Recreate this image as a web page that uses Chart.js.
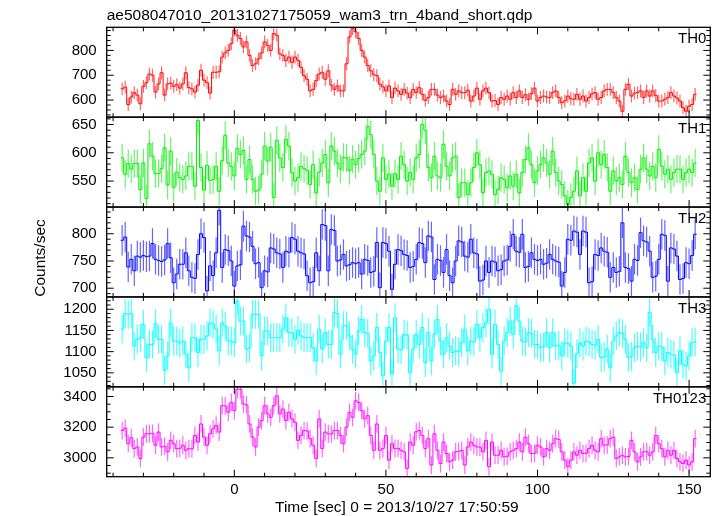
<!DOCTYPE html>
<html>
<head>
<meta charset="utf-8">
<script src="https://cdn.jsdelivr.net/npm/chart.js@4.4.0/dist/chart.umd.min.js"></script>
<style>
  html, body { margin: 0; padding: 0; background: #fff; }
  #chart { display: block; }
</style>
</head>
<body>
<canvas id="chart" width="717" height="516"></canvas>
<script>
// light curve, 1 s bins, first bin centred at t = -37 s
const TITLE = "ae508047010_20131027175059_wam3_trn_4band_short.qdp";
const X_LABEL = "Time [sec] 0 = 2013/10/27 17:50:59";
const Y_LABEL = "Counts/sec";
const FIRST_BIN = -37;
const BIN = 1;
const xTicks = [0, 50, 100, 150];
const X_MINOR = 10;

const bands = ["TH0", "TH1", "TH2", "TH3", "TH0123"];

const th0 = [
  645, 652, 582, 612, 630, 620, 585, 655, 670, 705,
  700, 632, 665, 710, 620, 665, 668, 655, 662, 648,
  665, 710, 650, 645, 632, 660, 720, 680, 670, 628,
  712, 712, 714, 773, 790, 800, 827, 882, 861, 848,
  814, 834, 780, 739, 746, 766, 790, 834, 820, 800,
  868, 861, 786, 780, 759, 773, 752, 773, 760, 732,
  698, 684, 637, 643, 678, 705, 712, 684, 718, 660,
  643, 657, 637, 637, 746, 854, 888, 875,
  848, 800, 773, 739, 718, 702, 698, 664, 653, 637,
  657, 610, 648, 637, 623, 643, 628, 610, 643, 630,
  650, 623, 599, 610, 643, 643, 620, 610, 616, 596,
  582, 643, 623, 637, 630, 630, 640, 596, 616, 648,
  603, 637, 648, 630, 596, 598, 582, 610, 603, 616,
  603, 630, 610, 637, 610, 622, 603, 626, 648, 596,
  610, 616, 612, 610, 630, 637, 610, 589, 596, 616,
  605, 603, 623, 603, 616, 596, 610, 625, 630, 603,
  610, 637, 643, 643, 630, 610, 596, 555, 643, 664,
  616, 628, 630, 637, 610, 637, 616, 637, 618, 596,
  596, 603, 610, 630, 616, 608, 596, 569, 555, 575,
  582, 623
];

const th1 = [
  591, 562, 581, 571, 581, 581, 535, 582, 519, 616,
  594, 563, 563, 572, 609, 543, 603, 539, 566, 556,
  553, 559, 576, 576, 541, 657, 574, 534, 578, 551,
  553, 576, 532, 586, 631, 582, 576, 559, 608, 597,
  604, 553, 588, 553, 532, 534, 562, 612, 585, 610,
  521, 622, 591, 574, 624, 612, 565, 550, 556, 576,
  572, 569, 544, 579, 529, 566, 582, 597, 547, 612,
  603, 582, 571, 592, 591, 569, 589, 579,
  590, 597, 603, 647, 632, 597, 550, 532, 591, 553,
  562, 541, 563, 553, 594, 579, 550, 565, 553, 591,
  597, 650, 640, 574, 556, 594, 559, 556, 615, 576,
  559, 591, 594, 521, 547, 547, 526, 547, 574, 600,
  579, 529, 565, 568, 562, 526, 535, 556, 553, 538,
  559, 541, 562, 529, 565, 588, 609, 579, 547, 568,
  579, 591, 582, 562, 603, 565, 550, 544, 524, 509,
  521, 532, 568, 524, 556, 532, 582, 591, 550, 600,
  579, 597, 574, 532, 568, 550, 556, 544, 594, 565,
  547, 556, 535, 571, 591, 571, 559, 576, 556, 606,
  576, 562, 571, 553, 565, 571, 571, 553, 565, 571,
  565, 582
];

const th2 = [
  788, 794, 739, 753, 732, 759, 757, 760, 758, 759,
  782, 753, 751, 749, 752, 782, 756, 710, 726, 744,
  744, 765, 732, 720, 718, 762, 800, 793, 695, 741,
  723, 765, 843, 738, 771, 769, 750, 704, 741, 743,
  814, 796, 794, 777, 745, 747, 701, 732, 730, 774,
  772, 765, 763, 738, 768, 766, 793, 790, 768, 765,
  763, 723, 710, 712, 765, 732, 817, 815, 732, 808,
  806, 750, 752, 762, 741, 743, 747, 745,
  747, 726, 753, 751, 729, 731, 784, 701, 784, 782,
  768, 698, 744, 771, 769, 762, 760, 738, 740, 753,
  784, 782, 747, 796, 794, 716, 753, 751, 729, 771,
  723, 710, 750, 787, 785, 759, 757, 790, 765, 763,
  713, 715, 750, 729, 750, 748, 732, 734, 750, 752,
  777, 799, 768, 766, 799, 738, 740, 765, 753, 751,
  753, 744, 746, 762, 753, 750, 748, 704, 729, 790,
  788, 805, 803, 762, 805, 803, 710, 712, 762, 760,
  774, 768, 766, 720, 738, 729, 731, 820, 738, 736,
  713, 753, 751, 802, 787, 785, 768, 720, 722, 753,
  799, 797, 713, 774, 772, 759, 716, 718, 747, 745,
  760, 799
];

const th3 = [
  1153, 1190, 1188, 1190, 1113, 1129, 1133, 1164, 1086, 1117,
  1117, 1166, 1129, 1129, 1056, 1090, 1168, 1125, 1125, 1120,
  1125, 1094, 1062, 1133, 1133, 1098, 1129, 1129, 1137, 1168,
  1165, 1153, 1102, 1168, 1160, 1125, 1125, 1121, 1219, 1172,
  1172, 1106, 1109, 1188, 1188, 1188, 1090, 1149, 1149, 1133,
  1133, 1133, 1133, 1153, 1180, 1145, 1145, 1129, 1150, 1137,
  1133, 1133, 1133, 1109, 1078, 1153, 1106, 1145, 1117, 1117,
  1192, 1190, 1094, 1161, 1161, 1137, 1106, 1094,
  1149, 1176, 1145, 1143, 1078, 1090, 1157, 1098, 1043, 1125,
  1157, 1047, 1180, 1106, 1104, 1141, 1139, 1050, 1106, 1141,
  1117, 1157, 1074, 1145, 1078, 1141, 1176, 1125, 1094, 1133,
  1113, 1098, 1102, 1100, 1121, 1153, 1102, 1125, 1123, 1164,
  1133, 1157, 1168, 1200, 1094, 1164, 1117, 1054, 1125, 1145,
  1172, 1141, 1208, 1172, 1125, 1123, 1145, 1143, 1117, 1117,
  1109, 1111, 1145, 1109, 1145, 1113, 1115, 1090, 1121, 1119,
  1113, 1025, 1095, 1121, 1113, 1125, 1123, 1117, 1115, 1129,
  1086, 1088, 1106, 1062, 1125, 1137, 1145, 1143, 1129, 1086,
  1088, 1109, 1113, 1111, 1121, 1109, 1192, 1129, 1098, 1113,
  1111, 1078, 1098, 1094, 1092, 1050, 1102, 1070, 1066, 1090,
  1121, 1123
];

const th0123 = [
  3178, 3194, 3092, 3131, 3060, 3071, 2996, 3135, 3157, 3157,
  3160, 3082, 3168, 3071, 3075, 3039, 3114, 3092, 3060, 3062,
  3082, 3049, 3060, 3058, 3146, 3103, 3221, 3135, 3082, 3157,
  3189, 3211, 3168, 3340, 3338, 3297, 3361, 3308, 3447, 3447,
  3351, 3345, 3221, 3135, 3071, 3200, 3243, 3340, 3286, 3264,
  3340, 3404, 3286, 3318, 3243, 3297, 3254, 3232, 3114, 3146,
  3178, 3175, 3125, 3082, 2996, 3254, 3060, 3168, 3157, 3155,
  3178, 3178, 3146, 3092, 3200, 3297, 3264, 3372,
  3361, 3308, 3254, 3275, 3146, 3049, 3221, 3049, 3060, 3146,
  2985, 3092, 3060, 3062, 3049, 3039, 2931, 3103, 3082, 3170,
  3178, 3146, 3060, 3125, 2953, 3157, 3049, 2963, 3103, 3028,
  2974, 2985, 3039, 3042, 3049, 2953, 3071, 3103, 3082, 3071,
  3070, 3039, 3114, 2942, 3103, 3017, 3017, 3049, 3006, 3010,
  3039, 3049, 3060, 3103, 3039, 3135, 3092, 3028, 3030, 3082,
  3071, 3006, 3060, 3049, 3092, 3125, 3120, 3039, 2985, 2942,
  2985, 3039, 3017, 3049, 3028, 3030, 3060, 3082, 3049, 3039,
  3125, 3082, 3085, 3125, 3135, 2996, 3006, 3017, 3006, 3008,
  3114, 3039, 2974, 3006, 3039, 3040, 3017, 3039, 3146, 3092,
  3060, 3006, 3049, 3017, 3049, 2996, 2974, 2963, 2985, 2953,
  2974, 3125
];

const series = [th0, th1, th2, th3, th0123];
// 1-sigma error per band (counts/sec)
const errors = [26, 25, 28, 34, 58];
const yRanges = [[531, 893], [504, 663], [684, 849], [1017, 1229], [2877, 3463]];
const yTicks = [[600, 700, 800], [550, 600, 650], [700, 750, 800], [1050, 1100, 1150, 1200], [3000, 3200, 3400]];
const yMinor = [20, 10, 10, 10, 50];
const colors = ["#ff0000", "#00ee00", "#0000ff", "#00ffff", "#ff00ff"];
const errColors = ["rgba(255,0,0,0.6)", "rgba(0,238,0,0.6)", "rgba(0,0,255,0.6)", "rgba(0,255,255,0.7)", "rgba(255,0,255,0.6)"];

const times = th0.map((_, i) => FIRST_BIN + i * BIN);
const FONT = '"Liberation Sans", Arial, sans-serif';

Chart.defaults.font.family = FONT;
Chart.defaults.font.size = 15;
Chart.defaults.color = "#000";

const qdpFrame = {
  id: "qdpFrame",
  beforeDatasetDraw(chart, args) {
    const i = args.index;
    const xs = args.meta.xScale, ys = args.meta.yScale;
    const ctx = chart.ctx;
    ctx.save();
    ctx.beginPath();
    ctx.rect(xs.left, ys.top, xs.width, ys.height);
    ctx.clip();
    // error bars
    const vals = series[i];
    ctx.strokeStyle = errColors[i];
    ctx.lineWidth = 1.2;
    ctx.beginPath();
    vals.forEach((v, k) => {
      const x = xs.getPixelForValue(times[k]);
      ctx.moveTo(x, ys.getPixelForValue(v - errors[i]));
      ctx.lineTo(x, ys.getPixelForValue(v + errors[i]));
    });
    ctx.stroke();
    // half bins at both ends of the step line
    const n = vals.length - 1;
    ctx.strokeStyle = colors[i];
    ctx.lineWidth = 1;
    ctx.beginPath();
    ctx.moveTo(xs.getPixelForValue(times[0] - BIN / 2), ys.getPixelForValue(vals[0]));
    ctx.lineTo(xs.getPixelForValue(times[0]), ys.getPixelForValue(vals[0]));
    ctx.moveTo(xs.getPixelForValue(times[n]), ys.getPixelForValue(vals[n]));
    ctx.lineTo(xs.getPixelForValue(times[n] + BIN / 2), ys.getPixelForValue(vals[n]));
    ctx.stroke();
  },
  afterDatasetDraw(chart) {
    chart.ctx.restore();
  },
  afterDraw(chart) {
    const ctx = chart.ctx;
    const xs = chart.scales.x;
    const {left, right} = chart.chartArea;
    ctx.save();
    bands.forEach((name, i) => {
      const s = chart.scales["y" + i];
      ctx.strokeStyle = "#000";
      ctx.lineWidth = 1.3;
      ctx.strokeRect(left, s.top, right - left, s.bottom - s.top);
      ctx.lineWidth = 1;
      ctx.beginPath();
      for (let v = Math.ceil(xs.min / X_MINOR) * X_MINOR; v <= xs.max; v += X_MINOR) {
        const x = xs.getPixelForValue(v);
        const len = xTicks.includes(v) ? 7 : 4;
        ctx.moveTo(x, s.top); ctx.lineTo(x, s.top + len);
        ctx.moveTo(x, s.bottom); ctx.lineTo(x, s.bottom - len);
      }
      const step = yMinor[i];
      for (let v = Math.ceil(s.min / step) * step; v <= s.max; v += step) {
        const y = s.getPixelForValue(v);
        const len = yTicks[i].includes(v) ? 7 : 4;
        ctx.moveTo(left, y); ctx.lineTo(left + len, y);
        ctx.moveTo(right, y); ctx.lineTo(right - len, y);
      }
      ctx.stroke();
      ctx.fillStyle = "#000";
      ctx.font = "15px " + FONT;
      ctx.textAlign = "right";
      ctx.textBaseline = "alphabetic";
      ctx.fillText(name, right - 4, s.top + 16);
    });
    ctx.font = "15.5px " + FONT;
    ctx.textAlign = "left";
    ctx.fillText(TITLE, left, 20);
    ctx.fillText(X_LABEL, 275, 512);
    ctx.translate(41, 258);
    ctx.rotate(-Math.PI / 2);
    ctx.textAlign = "center";
    ctx.textBaseline = "middle";
    ctx.fillText(Y_LABEL, 0, 0);
    ctx.restore();
  }
};

const plain = v => String(v);

const scales = {
  x: {
    type: "linear",
    position: "bottom",
    min: -42.1,
    max: 157.0,
    grid: { display: false, drawTicks: false },
    border: { display: false },
    ticks: { padding: 4, maxRotation: 0, autoSkip: false, callback: plain },
    afterBuildTicks(scale) { scale.ticks = xTicks.map(v => ({ value: v })); },
    afterFit(scale) { scale.height = 39.3; }
  }
};
bands.forEach((name, i) => {
  scales["y" + i] = {
    type: "linear",
    position: "left",
    stack: "bands",
    stackWeight: 1,
    weight: bands.length - i,
    min: yRanges[i][0],
    max: yRanges[i][1],
    grid: { display: false, drawTicks: false },
    border: { display: false },
    ticks: { padding: 10, autoSkip: false, callback: plain },
    afterBuildTicks(scale) { scale.ticks = yTicks[i].map(v => ({ value: v })); },
    afterFit(scale) { scale.width = 106.7; }
  };
});

const ctx = document.getElementById("chart");
new Chart(ctx, {
  type: "line",
  data: {
    datasets: bands.map((name, i) => ({
      label: name,
      data: series[i].map((v, k) => ({ x: times[k], y: v })),
      xAxisID: "x",
      yAxisID: "y" + i,
      borderColor: colors[i],
      borderWidth: 1,
      pointRadius: 0,
      stepped: "middle",
      fill: false
    }))
  },
  options: {
    responsive: false,
    animation: false,
    devicePixelRatio: 1,
    layout: { padding: { top: 27.3, right: 6.7, bottom: 0, left: 0 } },
    plugins: { legend: { display: false }, tooltip: { enabled: false } },
    scales: scales
  },
  plugins: [qdpFrame]
});
</script>
</body>
</html>
